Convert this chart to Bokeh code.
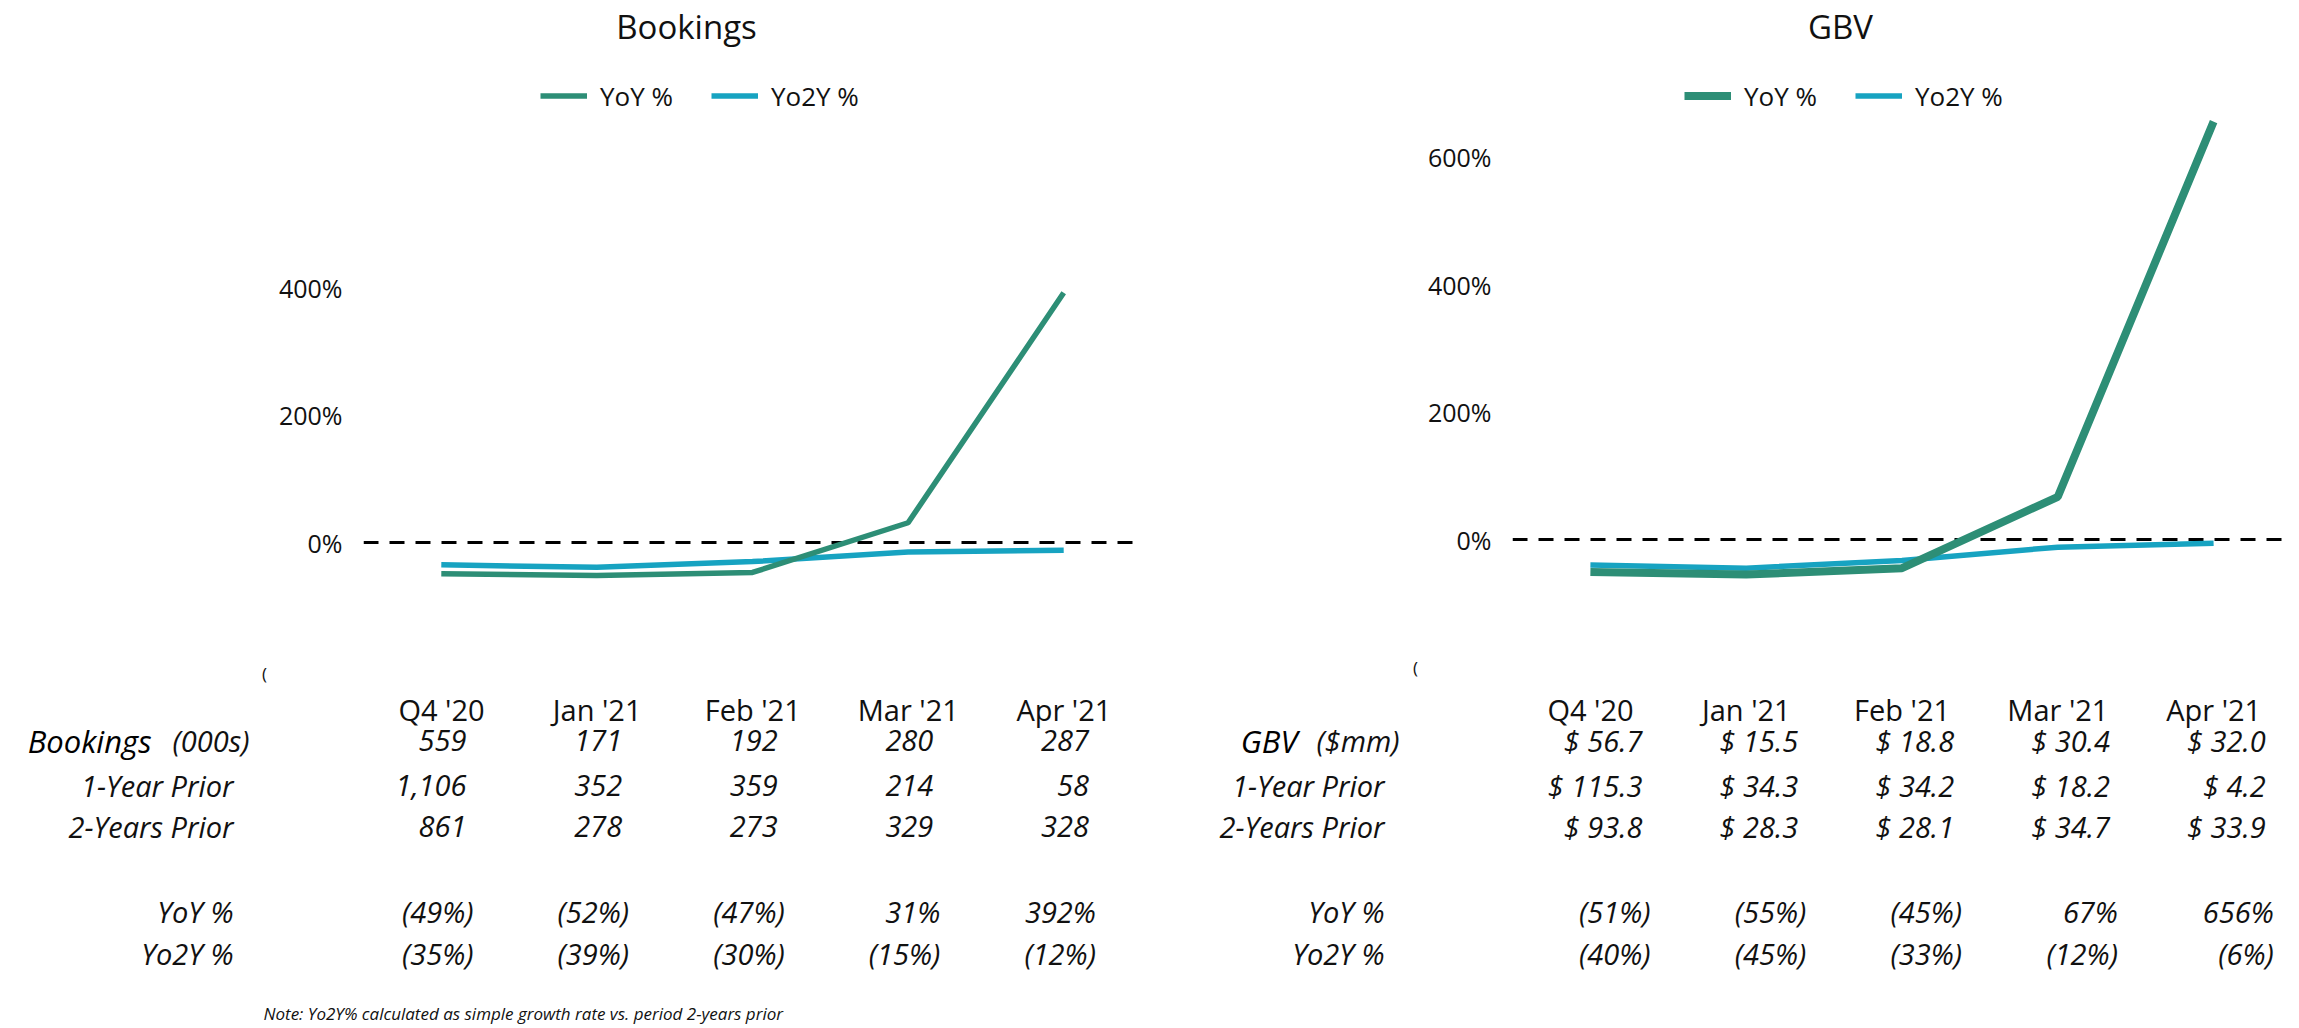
from bokeh.plotting import figure
from bokeh.models import (ColumnDataSource, FactorRange, Range1d, Span, Label, Legend,
                          LegendItem, FixedTicker, PrintfTickFormatter)
from bokeh.layouts import row, column
from bokeh.embed import file_html
from bokeh.resources import INLINE
from bokeh.core.properties import value

# ---------------- data ----------------
periods = ["Q4 '20", "Jan '21", "Feb '21", "Mar '21", "Apr '21"]

bookings = [559, 171, 192, 280, 287]
bookings_1y = [1106, 352, 359, 214, 58]
bookings_2y = [861, 278, 273, 329, 328]
bookings_yoy = [-49, -52, -47, 31, 392]
bookings_yo2y = [-35, -39, -30, -15, -12]

gbv = [56.7, 15.5, 18.8, 30.4, 32.0]
gbv_1y = [115.3, 34.3, 34.2, 18.2, 4.2]
gbv_2y = [93.8, 28.3, 28.1, 34.7, 33.9]
gbv_yoy = [-51, -55, -45, 67, 656]
gbv_yo2y = [-40, -45, -33, -12, -6]

bookings_ticks = [0, 200, 400]
gbv_ticks = [0, 200, 400, 600]

row_labels = ["1-Year Prior", "2-Years Prior", "YoY %", "Yo2Y %"]
note_text = "Note: Yo2Y% calculated as simple growth rate vs. period 2-years prior"

# ---------------- style ----------------
FONT = "Open Sans"
GREEN = "#2D8E76"
CYAN = "#17A3C1"
INK = "#111111"
PX_PER_PCT = 0.637
CHART_H = 640
TABLE_H = 388
TXT = "29px"


def no_align(p):
    try:
        p.frame_align = False
    except Exception:
        pass


def pct_text(v):
    return f"({abs(v)}%)" if v < 0 else f"{v}%"


def make_chart(title, yoy, yo2y, ticks, width, frame_left, border_right, zero_px,
               yoy_lw, title_dx, legend_dx):
    y0 = -(CHART_H - zero_px) / PX_PER_PCT
    y1 = zero_px / PX_PER_PCT
    p = figure(width=width, height=CHART_H, x_range=FactorRange(*periods),
               y_range=Range1d(y0, y1), output_backend="svg", toolbar_location=None,
               x_axis_location=None, min_border_left=frame_left,
               min_border_right=border_right, min_border_top=0, min_border_bottom=0)
    no_align(p)
    p.outline_line_color = None
    p.xgrid.visible = False
    p.ygrid.visible = False
    p.background_fill_color = "white"

    zero = Span(location=0, dimension="width", line_color="black", line_width=3,
                line_dash="15 11", level="underlay")
    p.add_layout(zero)

    src = ColumnDataSource(dict(x=periods, yoy=yoy, yo2y=yo2y))
    r2 = p.line("x", "yo2y", source=src, line_color=CYAN, line_width=5.5)
    r1 = p.line("x", "yoy", source=src, line_color=GREEN, line_width=yoy_lw)

    ax = p.yaxis[0]
    ax.ticker = FixedTicker(ticks=ticks)
    ax.formatter = PrintfTickFormatter(format="%d%%")
    ax.axis_line_color = None
    ax.major_tick_line_color = None
    ax.minor_tick_line_color = None
    ax.major_tick_out = 0
    ax.major_label_standoff = 21
    ax.major_label_text_font = FONT
    ax.major_label_text_font_size = "25px"
    ax.major_label_text_color = INK

    legend = Legend(items=[LegendItem(label="YoY %", renderers=[r1]),
                           LegendItem(label="Yo2Y %", renderers=[r2])],
                    orientation="horizontal", location=(legend_dx, CHART_H - 97 - 16.5),
                    glyph_width=47, glyph_height=33, label_height=33, label_standoff=13,
                    spacing=38, padding=0, margin=0, border_line_color=None,
                    background_fill_alpha=0, label_text_font=FONT,
                    label_text_font_size="26px", label_text_color=INK)
    p.add_layout(legend)

    p.add_layout(Label(x=title_dx, y=CHART_H - 26, x_units="screen", y_units="screen",
                       text=title, text_font=FONT, text_font_size="33px",
                       text_align="center", text_baseline="middle", text_color=INK))
    return p


def make_table(width, col0_px, spacing, head_label, head_unit, main_vals, y1_vals, y2_vals,
               yoy, yo2y, fmt, num_dx, pct_dx, label_dx, head_dx, unit_dx, paren_y, note):
    start = -col0_px / spacing
    end = start + width / spacing
    t = figure(width=width, height=TABLE_H, x_range=Range1d(start, end),
               y_range=Range1d(TABLE_H, 0), output_backend="svg", toolbar_location=None,
               x_axis_location=None, y_axis_location=None, min_border=0)
    no_align(t)
    t.outline_line_color = None
    t.xgrid.visible = False
    t.ygrid.visible = False

    idx = list(range(len(periods)))
    ROW_Y = dict(head=68.5, main=100, y1=144.5, y2=186, yoy=271, yo2y=313, note=373)

    common = dict(text_baseline="middle", text_font=value(FONT), text_color=INK)

    # header
    t.text(x=idx, y=[ROW_Y["head"]] * 5, text=periods, text_align="center",
           text_font_size=TXT, **common)

    # number rows
    for key, vals in (("main", main_vals), ("y1", y1_vals), ("y2", y2_vals)):
        t.text(x=idx, y=[ROW_Y[key]] * 5, text=[fmt(v) for v in vals], text_align="right",
               x_offset=num_dx, text_font_size=TXT, text_font_style="italic", **common)
    for key, vals in (("yoy", yoy), ("yo2y", yo2y)):
        t.text(x=idx, y=[ROW_Y[key]] * 5, text=[pct_text(v) for v in vals],
               text_align="right", x_offset=pct_dx, text_font_size=TXT,
               text_font_style="italic", **common)

    # row labels
    t.text(x=[0] * 4, y=[ROW_Y[k] for k in ("y1", "y2", "yoy", "yo2y")], text=row_labels,
           text_align="right", x_offset=label_dx, text_font_size=TXT,
           text_font_style="italic", **common)
    t.text(x=[0], y=[ROW_Y["main"]], text=[head_label], text_align="right", x_offset=head_dx,
           text_font_size="31px", text_font_style="italic", text_baseline="middle",
           text_font=value(FONT), text_color="#000000")
    t.text(x=[0], y=[ROW_Y["main"]], text=[head_unit], text_align="right", x_offset=unit_dx,
           text_font_size=TXT, text_font_style="italic", **common)

    # clipped glyph seen under the chart
    t.text(x=[0], y=[paren_y], text=["("], text_align="center", x_offset=label_dx + 31,
           text_font_size="17px", **common)

    if note:
        t.text(x=[0], y=[ROW_Y["note"]], text=[note_text], text_align="left", x_offset=-178,
               text_font_size="17px", text_font_style="italic", **common)
    return t


chart_l = make_chart("Bookings", bookings_yoy, bookings_yo2y, bookings_ticks, width=1150,
                     frame_left=363, border_right=9, zero_px=542, yoy_lw=5.5,
                     title_dx=323, legend_dx=177)
chart_r = make_chart("GBV", gbv_yoy, gbv_yo2y, gbv_ticks, width=1149, frame_left=362,
                     border_right=8, zero_px=539, yoy_lw=8, title_dx=328, legend_dx=172)

table_l = make_table(1150, 441, 155.6, "Bookings", "(000s)", bookings, bookings_1y,
                     bookings_2y, bookings_yoy, bookings_yo2y, lambda v: f"{v:,}",
                     num_dx=25, pct_dx=32, label_dx=-208, head_dx=-290, unit_dx=-192,
                     paren_y=33, note=True)
table_r = make_table(1149, 440, 155.8, "GBV", "($mm)", gbv, gbv_1y, gbv_2y, gbv_yoy,
                     gbv_yo2y, lambda v: f"$ {v:.1f}", num_dx=52, pct_dx=60,
                     label_dx=-206, head_dx=-293, unit_dx=-191, paren_y=27, note=False)

layout = row(column(chart_l, table_l, spacing=0), column(chart_r, table_r, spacing=0),
             spacing=0)

open("out.html", "w").write(file_html(layout, INLINE))
